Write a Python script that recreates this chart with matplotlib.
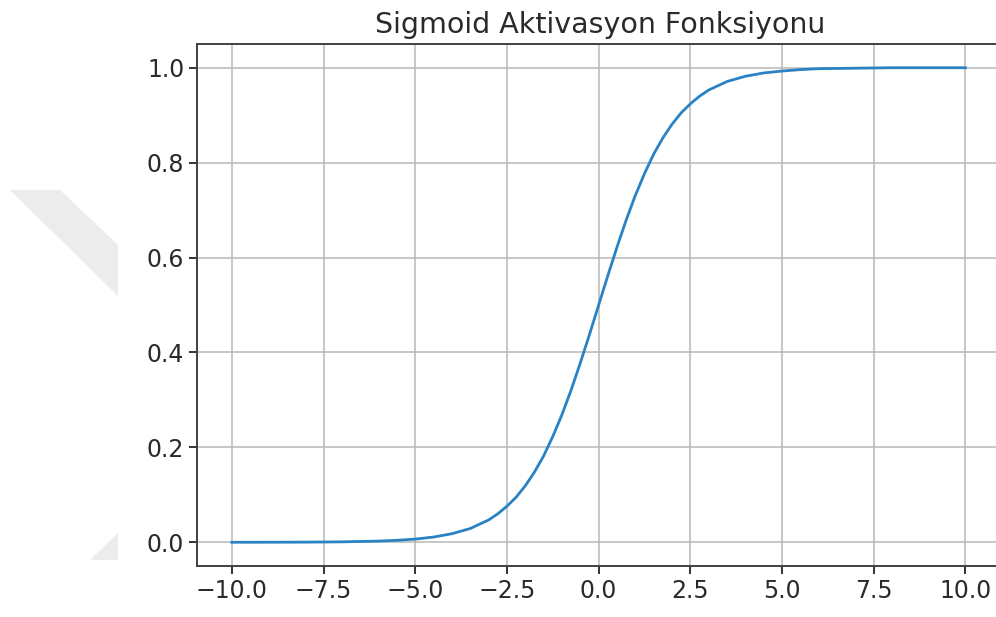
import matplotlib
matplotlib.use("Agg")
import matplotlib.pyplot as plt
from matplotlib.patches import Polygon

# değerler
x_degerleri = [-10, -9, -8, -7, -6, -5.5, -5, -4.5, -4, -3.5, -3, -2.75, -2.5,
               -2.25, -2, -1.75, -1.5, -1.25, -1, -0.75, -0.5, -0.25, 0,
               0.25, 0.5, 0.75, 1, 1.25, 1.5, 1.75, 2, 2.25, 2.5, 2.75, 3,
               3.5, 4, 4.5, 5, 5.5, 6, 7, 8, 9, 10]
y_degerleri = [0.000, 0.0001, 0.0003, 0.0009, 0.0025, 0.0041, 0.0067, 0.011,
               0.018, 0.029, 0.047, 0.060, 0.076, 0.095, 0.119, 0.148, 0.182,
               0.223, 0.269, 0.321, 0.378, 0.438, 0.500,
               0.562, 0.622, 0.679, 0.731, 0.777, 0.818, 0.852, 0.881, 0.905,
               0.924, 0.940, 0.953, 0.971, 0.982, 0.989, 0.993, 0.996, 0.998,
               0.999, 1.000, 1.000, 1.000]
baslik = "Sigmoid Aktivasyon Fonksiyonu"

W, H = 996, 617
fig = plt.figure(figsize=(W / 100, H / 100), dpi=100)

# soldaki soluk filigran parçaları
gri = "#ececec"
fig.patches.append(Polygon([(10 / W, 1 - 190 / H), (60 / W, 1 - 190 / H),
                            (118 / W, 1 - 245 / H), (118 / W, 1 - 296 / H)],
                           closed=True, transform=fig.transFigure,
                           facecolor=gri, edgecolor="none"))
fig.patches.append(Polygon([(118 / W, 1 - 533 / H), (118 / W, 1 - 560 / H),
                            (90 / W, 1 - 560 / H)],
                           closed=True, transform=fig.transFigure,
                           facecolor=gri, edgecolor="none"))

ax = fig.add_axes([197 / W, 1 - 566 / H, (1004 - 197) / W, (566 - 44) / H])
ax.plot(x_degerleri, y_degerleri, color="#2a82c4", linewidth=2.0)
ax.set_xlim(-10.95, 11.05)
ax.set_ylim(-0.05, 1.05)
ax.set_xticks([-10, -7.5, -5, -2.5, 0, 2.5, 5, 7.5, 10])
ax.set_yticks([0, 0.2, 0.4, 0.6, 0.8, 1.0])
ax.grid(True, color="#b8b8b8", linewidth=1.1)
ax.tick_params(labelsize=17, length=5.6, width=1.4, colors="#333333",
               labelcolor="#2a2a2a")
for s in ax.spines.values():
    s.set_linewidth(1.4)
    s.set_color("#404040")
ax.set_title(baslik, fontsize=20.5, color="#2a2a2a", pad=8)

fig.savefig("out.png", facecolor="white")
